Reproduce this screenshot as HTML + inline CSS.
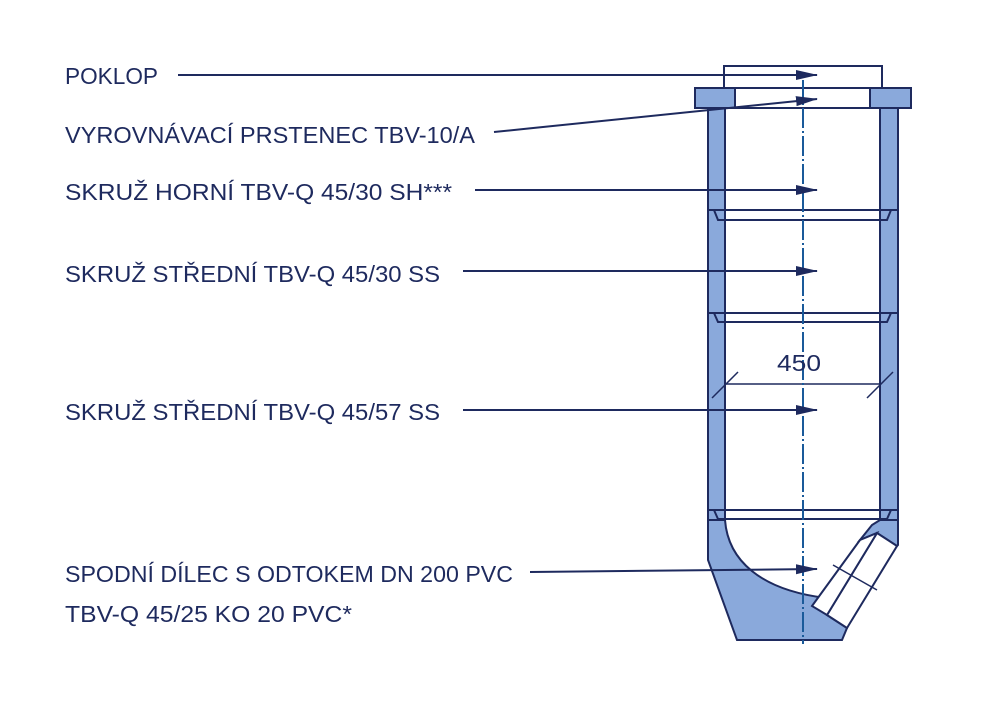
<!DOCTYPE html>
<html><head><meta charset="utf-8"><style>html,body{margin:0;padding:0;background:#fff}svg{display:block}</style></head>
<body>
<svg width="1000" height="714" viewBox="0 0 1000 714" xmlns="http://www.w3.org/2000/svg">
<defs><marker id="a" markerWidth="22" markerHeight="12" refX="21" refY="6" orient="auto" markerUnits="userSpaceOnUse"><path d="M0,1 L22,6 L0,11 Z" fill="#1e2a5e"/></marker></defs>
<g fill="#8aa9db" stroke="#1e2a5e" stroke-width="2">
<rect x="724" y="66" width="158" height="22" fill="#fff"/>
<rect x="695" y="88" width="40" height="20"/>
<rect x="870" y="88" width="41" height="20"/>
<line x1="735" y1="108" x2="870" y2="108"/>
<rect x="708" y="108" width="17" height="412"/>
<rect x="880" y="108" width="18" height="412"/>
<path d="M708,520 L725,520 C728,560 760,590 826,598 L833,604 L827,615 L847,628 L842,640 L737,640 L708,560 Z"/>
<path d="M880,520 L898,520 L898,545 L897,546 L877,533 L860,540 L872,525 Z"/>
<path d="M877,533 L897,546 L847,628 L827,615 Z" fill="#fff"/>
<path d="M860,540 L877,533 L827,615 L812,606 Z" fill="#fff"/>
</g>
<g stroke="#1e2a5e" stroke-width="2" fill="none">
<path d="M708,210 L898,210 M714,210 L718,220 L887,220 L891,210"/>
<path d="M708,313 L898,313 M714,313 L718,322 L887,322 L891,313"/>
<path d="M708,510 L898,510 M714,510 L718,519 L887,519 L891,510"/>
<line x1="725" y1="384" x2="880" y2="384" stroke-width="1.5"/>
<line x1="712" y1="398" x2="738" y2="372" stroke-width="1.5"/>
<line x1="867" y1="398" x2="893" y2="372" stroke-width="1.5"/>
<line x1="833" y1="565" x2="877" y2="590" stroke-width="1.5"/>
</g>
<line x1="803" y1="80" x2="803" y2="644" stroke="#1a5a9a" stroke-width="2" stroke-dasharray="20,3,2,3"/>
<g stroke="#1e2a5e" stroke-width="2" marker-end="url(#a)">
<line x1="178" y1="75" x2="817" y2="75"/>
<line x1="494" y1="132" x2="817" y2="99"/>
<line x1="475" y1="190" x2="817" y2="190"/>
<line x1="463" y1="271" x2="817" y2="271"/>
<line x1="463" y1="410" x2="817" y2="410"/>
<line x1="530" y1="572" x2="817" y2="569"/>
</g>
<g font-family="Liberation Sans, sans-serif" font-size="23" fill="#1e2a5e">
<text x="65" y="84" textLength="93" lengthAdjust="spacingAndGlyphs">POKLOP</text>
<text x="65" y="143" textLength="410" lengthAdjust="spacingAndGlyphs">VYROVNÁVACÍ PRSTENEC TBV-10/A</text>
<text x="65" y="200" textLength="387" lengthAdjust="spacingAndGlyphs">SKRUŽ HORNÍ TBV-Q 45/30 SH***</text>
<text x="65" y="282" textLength="375" lengthAdjust="spacingAndGlyphs">SKRUŽ STŘEDNÍ TBV-Q 45/30 SS</text>
<text x="65" y="420" textLength="375" lengthAdjust="spacingAndGlyphs">SKRUŽ STŘEDNÍ TBV-Q 45/57 SS</text>
<text x="65" y="582" textLength="448" lengthAdjust="spacingAndGlyphs">SPODNÍ DÍLEC S ODTOKEM DN 200 PVC</text>
<text x="65" y="622" textLength="287" lengthAdjust="spacingAndGlyphs">TBV-Q 45/25 KO 20 PVC*</text>
<text x="777" y="371" textLength="44" lengthAdjust="spacingAndGlyphs">450</text>
</g>
</svg>
</body></html>
